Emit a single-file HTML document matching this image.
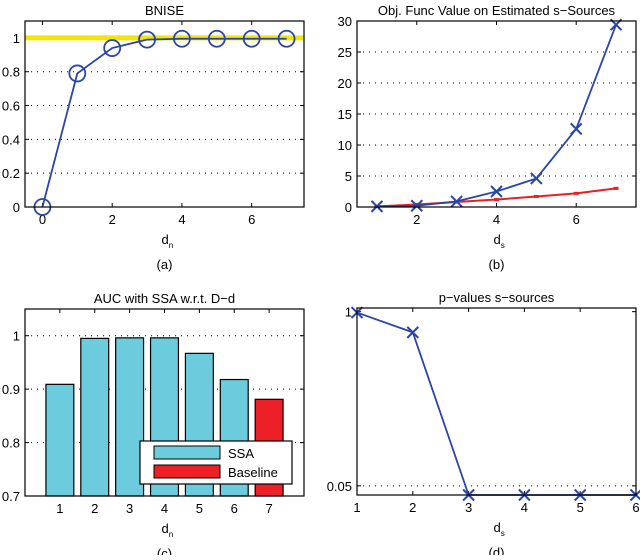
<!DOCTYPE html>
<html><head><meta charset="utf-8"><style>
html,body{margin:0;padding:0;background:#fff}
svg text{font-family:"Liberation Sans",sans-serif;fill:#000}
</style></head><body>
<svg id="fig" width="640" height="555" xmlns="http://www.w3.org/2000/svg"></svg>
<script>
// Panel (a)
const aX=[0,1,2,3,4,5,6,7];
const aY=[0,0.79,0.94,0.99,0.995,0.995,0.995,0.995];
const aRef=1;
const aXTicks=[0,2,4,6];
const aYTicks=[0,0.2,0.4,0.6,0.8,1];
const aYLabels=["0","0.2","0.4","0.6","0.8","1"];
// Panel (b)
const bX=[1,2,3,4,5,6,7];
const bBlue=[0.1,0.2,0.9,2.5,4.6,12.6,29.4];
const bRed=[0.1,0.4,0.8,1.2,1.7,2.2,3.0];
const bXTicks=[2,4,6];
const bYTicks=[0,5,10,15,20,25,30];
// Panel (c)
const cX=[1,2,3,4,5,6,7];
const cVals=[0.909,0.995,0.996,0.996,0.967,0.918,0.881];
const cSeries=["SSA","SSA","SSA","SSA","SSA","SSA","Baseline"];
const cYTicks=[0.7,0.8,0.9,1];
const cYLabels=["0.7","0.8","0.9","1"];
// Panel (d)
const dX=[1,2,3,4,5,6];
const dY=[0.995,0.887,0,0,0,0];
const dYTicks=[0.05,1];
const dYLabels=["0.05","1"];

const NS="http://www.w3.org/2000/svg";
const svg=document.getElementById('fig');
function el(tag,attrs,parent,txt){const e=document.createElementNS(NS,tag);for(const k in attrs)e.setAttribute(k,attrs[k]);if(txt!==undefined)e.textContent=txt;(parent||svg).appendChild(e);return e;}
function scale(d0,d1,r0,r1){return v=>r0+(v-d0)*(r1-r0)/(d1-d0);}

function panel(o){
  const g=el('g',{});
  
  
  const x=scale(o.xd[0],o.xd[1],o.L,o.R), y=scale(o.yd[0],o.yd[1],o.B,o.T);
  o.yTicks.forEach((t,i)=>{
    if(o.grid){const l=el('line',{x1:o.L,x2:o.R,y1:y(t),y2:y(t),stroke:'#000','stroke-width':1,'stroke-dasharray':'1 5'},g);
    }
    el('line',{x1:o.L,x2:o.L+4,y1:y(t),y2:y(t),stroke:'#000'},g);
    el('line',{x1:o.R,x2:o.R-4,y1:y(t),y2:y(t),stroke:'#000'},g);
    const tx=el('text',{x:o.L-5,y:y(t)+5,'text-anchor':'end','font-size':13},g,o.yLabels?o.yLabels[i]:String(t));
    
  });
  o.xTicks.forEach(t=>{
    el('line',{x1:x(t),x2:x(t),y1:o.B,y2:o.B-4,stroke:'#000'},g);
    el('line',{x1:x(t),x2:x(t),y1:o.T,y2:o.T+4,stroke:'#000'},g);
    const tx=el('text',{x:x(t),y:o.B+17,'text-anchor':'middle','font-size':13},g,String(t));
    
  });
  o.draw(g,x,y);
  el('rect',{x:o.L,y:o.T,width:o.R-o.L,height:o.B-o.T,fill:'none',stroke:'#000','stroke-width':1.2},g);
  const t=el('text',{x:(o.L+o.R)/2,y:o.T-6,'text-anchor':'middle','font-size':13},g,o.title);
  
  const xl=el('text',{x:(o.L+o.R)/2-3,y:o.B+37,'font-size':13},g,'d');
  
  el('tspan',{'font-size':8,dy:4},xl,o.sub);
  const cap=el('text',{x:(o.L+o.R)/2,y:o.B+62,'text-anchor':'middle','font-size':13},g,o.cap);
  
}
function cross(g,cx,cy,s,c){
  el('path',{d:`M${cx-s} ${cy-s}L${cx+s} ${cy+s}M${cx-s} ${cy+s}L${cx+s} ${cy-s}`,stroke:c,'stroke-width':2},g);
}

panel({name:'panel-a-bnise',L:25,R:304,T:21,B:207,xd:[-0.5,7.5],yd:[0,1.1],xTicks:aXTicks,yTicks:aYTicks,yLabels:aYLabels,grid:true,title:'BNISE',sub:'n',cap:'(a)',
 draw:(g,x,y)=>{
  const r=el('line',{x1:25,x2:304,y1:y(aRef),y2:y(aRef),stroke:'#f2e600','stroke-width':5},g);
  
  const p=el('polyline',{points:aX.map((v,i)=>x(v)+','+y(aY[i])).join(' '),fill:'none',stroke:'#2a45a8','stroke-width':1.8},g);
  
  aX.forEach((v,i)=>{const c=el('circle',{cx:x(v),cy:y(aY[i]),r:8,fill:'none',stroke:'#2a45a8','stroke-width':1.8},g);
   });
 }});

panel({name:'panel-b-objective',L:357,R:636,T:21,B:207,xd:[0.5,7.5],yd:[0,30],xTicks:bXTicks,yTicks:bYTicks,grid:true,title:'Obj. Func Value on Estimated s\u2212Sources',sub:'s',cap:'(b)',
 draw:(g,x,y)=>{
  const r=el('polyline',{points:bX.map((v,i)=>x(v)+','+y(bRed[i])).join(' '),fill:'none',stroke:'#e82020','stroke-width':2},g);
  
  bX.forEach((v,i)=>{const m=el('rect',{x:x(v)-2.5,y:y(bRed[i])-1.5,width:5,height:3,fill:'#e82020'},g);
   });
  const p=el('polyline',{points:bX.map((v,i)=>x(v)+','+y(bBlue[i])).join(' '),fill:'none',stroke:'#2a45a8','stroke-width':1.8},g);
  
  bX.forEach((v,i)=>cross(g,x(v),y(bBlue[i]),5.5,'#2a45a8'));
 }});

panel({name:'panel-c-auc',L:25,R:304,T:309,B:496,xd:[0,8],yd:[0.7,1.05],xTicks:cX,yTicks:cYTicks,yLabels:cYLabels,grid:true,title:'AUC with SSA w.r.t. D\u2212d',sub:'n',cap:'(c)',
 draw:(g,x,y)=>{
  const w=x(0.8)-x(0);
  cX.forEach((v,i)=>{const b=el('rect',{x:x(v)-w/2,y:y(cVals[i]),width:w,height:496-y(cVals[i]),fill:cSeries[i]==='SSA'?'#6ccbdc':'#ec2026',stroke:'#000','stroke-width':1.2},g);
   });
  const lg=el('g',{},g);
  el('rect',{x:140,y:441,width:152,height:43,fill:'#fff',stroke:'#000','stroke-width':1.2},lg);
  el('rect',{x:154,y:446,width:66,height:13,fill:'#6ccbdc',stroke:'#000'},lg);
  el('rect',{x:154,y:465,width:66,height:13,fill:'#ec2026',stroke:'#000'},lg);
  el('text',{x:228,y:458,'font-size':13},lg,'SSA');
  el('text',{x:228,y:477,'font-size':13},lg,'Baseline');
 }});

panel({name:'panel-d-pvalues',L:357,R:636,T:308,B:495,xd:[1,6],yd:[0,1.02],xTicks:dX,yTicks:dYTicks,yLabels:dYLabels,grid:false,title:'p\u2212values s\u2212sources',sub:'s',cap:'(d)',
 draw:(g,x,y)=>{
  const gl=el('line',{x1:357,x2:636,y1:y(0.05),y2:y(0.05),stroke:'#000','stroke-dasharray':'1 5'},g);
  
  const p=el('polyline',{points:dX.map((v,i)=>x(v)+','+y(dY[i])).join(' '),fill:'none',stroke:'#2a45a8','stroke-width':1.8},g);
  
  dX.forEach((v,i)=>cross(g,x(v),y(dY[i]),5.5,'#2a45a8'));
 }});
</script>
</body></html>
